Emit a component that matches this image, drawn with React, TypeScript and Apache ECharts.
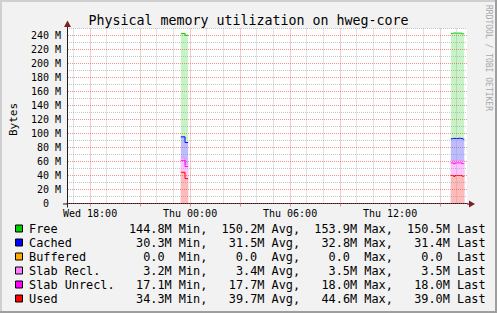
import React, { useEffect, useRef } from 'react';
import * as echarts from 'echarts';

// ---- time frame (minutes since Wed 00:00) ----
const T0 = 16 * 60 + 37; // left edge: Wed 16:37
const SPAN = 1440; // 24 h shown

// ---- series (stack order bottom -> top) ----
const seriesNames = ['Used', 'Slab Unrecl.', 'Slab Recl.', 'Buffered', 'Cached', 'Free'];
const lineColors = ['#ff0000', '#ff00ff', '#ff80ff', '#ffaa00', '#0000ff', '#00cc00'];
const fillColors = ['#ffbaba', '#ffc4ff', '#ffd0ff', '#ffe0a0', '#bcbcff', '#c6f4c6'];

// sample times, minutes since T0
const seg1Times = [410, 425, 436];
const seg2Times = [1382, 1387, 1392, 1397, 1402, 1407, 1412, 1417, 1422, 1427, 1430];

// values in MB
const used1 = [44.6, 35.5, 35.5];
const slabUnrecl1 = [17.1, 17.3, 17.3];
const slabRecl1 = [3.2, 3.3, 3.3];
const buffered1 = [0, 0, 0];
const cached1 = [30.3, 31.0, 31.0];
const free1 = [147.8, 153.3, 153.3];

const used2 = [40.1, 40.0, 38.7, 40.0, 40.1, 40.0, 40.0, 40.1, 39.0, 39.0, 39.0];
const slabUnrecl2 = [17.9, 18.0, 18.0, 18.0, 18.0, 18.0, 18.0, 18.0, 18.0, 18.0, 18.0];
const slabRecl2 = [3.5, 3.5, 3.5, 3.5, 3.5, 3.5, 3.5, 3.5, 3.5, 3.5, 3.5];
const buffered2 = [0, 0, 0, 0, 0, 0, 0, 0, 0, 0, 0];
const cached2 = [31.0, 31.5, 32.8, 31.4, 31.2, 31.8, 31.5, 31.4, 31.5, 31.4, 31.4];
const free2 = [150.5, 150.4, 150.6, 150.5, 150.6, 150.2, 150.4, 150.5, 150.4, 150.5, 150.5];

const segments = [
  { times: seg1Times, values: [used1, slabUnrecl1, slabRecl1, buffered1, cached1, free1] },
  { times: seg2Times, values: [used2, slabUnrecl2, slabRecl2, buffered2, cached2, free2] },
];

// ---- legend / statistics ----
const legendNames = ['Free', 'Cached', 'Buffered', 'Slab Recl.', 'Slab Unrecl.', 'Used'];
const legendColors = ['#00cc00', '#0000ff', '#ffaa00', '#ff80ff', '#ff00ff', '#ff0000'];
const statMin = [144.8, 30.3, 0, 3.2, 17.1, 34.3];
const statAvg = [150.2, 31.5, 0, 3.4, 17.7, 39.7];
const statMax = [153.9, 32.8, 0, 3.5, 18.0, 44.6];
const statLast = [150.5, 31.4, 0, 3.5, 18.0, 39.0];

const yTickStep = 20;
const yMaxLabel = 240;

const MONO = '"DejaVu Sans Mono", monospace';
const GRID_C = 'rgba(143,143,143,0.5)';
const MGRID_C = 'rgba(222,79,79,0.6)';
const AXIS_C = '#1f1f1f';
const ARROW_C = '#801f1f';

const PL = 67, PT = 28.5, PW = 400, PH = 175;
const YMAX = 250;
const pxPerM = PH / YMAX;

const dayNames = ['Wed', 'Thu', 'Fri'];
const categories: string[] = [];
for (let i = 0; i <= SPAN; i++) {
  const t = T0 + i;
  const d = Math.floor(t / 1440);
  const m = t % 1440;
  const hh = String(Math.floor(m / 60)).padStart(2, '0');
  const mm = String(m % 60).padStart(2, '0');
  categories.push(`${dayNames[d]} ${hh}:${mm}`);
}

// cumulative stack tops, per segment and level
function stackedData(seg: { times: number[]; values: number[][] }, k: number) {
  return seg.times.map((t, i) => {
    let s = 0;
    for (let j = 0; j <= k; j++) s += seg.values[j][i];
    return [t, +s.toFixed(2)];
  });
}

function fmt(v: number) {
  return v === 0 ? '0.0' : v.toFixed(1) + 'M';
}

function buildGraphics() {
  const g: any[] = [];
  // frame
  g.push({ type: 'rect', shape: { x: 0, y: 0, width: 497, height: 2 }, style: { fill: '#cfcfcf' }, silent: true });
  g.push({ type: 'rect', shape: { x: 0, y: 0, width: 2, height: 313 }, style: { fill: '#cfcfcf' }, silent: true });
  g.push({ type: 'rect', shape: { x: 0, y: 311, width: 497, height: 2 }, style: { fill: '#9e9e9e' }, silent: true });
  g.push({ type: 'rect', shape: { x: 495, y: 0, width: 2, height: 313 }, style: { fill: '#9e9e9e' }, silent: true });
  // axis extensions
  g.push({ type: 'line', shape: { x1: 63, y1: PT + PH + 0.5, x2: PL, y2: PT + PH + 0.5 }, style: { stroke: AXIS_C, lineWidth: 1 }, silent: true });
  g.push({ type: 'line', shape: { x1: PL + 0.5, y1: PT + PH, x2: PL + 0.5, y2: PT + PH + 4 }, style: { stroke: AXIS_C, lineWidth: 1 }, silent: true });
  g.push({ type: 'line', shape: { x1: PL + 0.5, y1: PT, x2: PL + 0.5, y2: 24 }, style: { stroke: AXIS_C, lineWidth: 1 }, silent: true });
  g.push({ type: 'line', shape: { x1: PL + PW, y1: PT + PH + 0.5, x2: PL + PW + 3, y2: PT + PH + 0.5 }, style: { stroke: AXIS_C, lineWidth: 1 }, silent: true });
  // arrows
  g.push({ type: 'polygon', shape: { points: [[PL + 0.5, 20.5], [PL - 3, 27], [PL + 4, 27]] }, style: { fill: ARROW_C }, silent: true });
  g.push({ type: 'polygon', shape: { points: [[PL + PW + 8, PT + PH + 0.5], [PL + PW + 2, PT + PH - 3], [PL + PW + 2, PT + PH + 4]] }, style: { fill: ARROW_C }, silent: true });
  // watermark
  g.push({
    type: 'text', x: 488, y: 5, rotation: -Math.PI / 2, silent: true,
    style: { text: 'RRDTOOL / TOBI OETIKER', font: `8px ${MONO}`, fill: '#a8a8a8', align: 'left', verticalAlign: 'middle' },
  });
  // legend
  const FS = 11.85;
  const CW = FS * 0.602;
  const X0 = 29;
  const font = `${FS}px ${MONO}`;
  const col = (n: number) => X0 + n * CW;
  legendNames.forEach((name, i) => {
    const y = 229 + 14 * i;
    g.push({ type: 'rect', shape: { x: 15.5, y: y - 4, width: 7, height: 7 }, style: { fill: legendColors[i], stroke: '#000', lineWidth: 1 }, silent: true });
    const txt = (text: string, x: number, align: string) =>
      g.push({ type: 'text', silent: true, style: { text, x, y, font, fill: '#000', align, verticalAlign: 'middle' } });
    txt(name, X0, 'left');
    const vals = [statMin[i], statAvg[i], statMax[i], statLast[i]];
    const words = ['Min,', 'Avg,', 'Max,', 'Last'];
    const ends = [20, 33, 46, 59];
    vals.forEach((v, j) => {
      const end = v === 0 ? ends[j] - 1 : ends[j];
      txt(fmt(v), col(end), 'right');
      txt(words[j], col(ends[j] + 1), 'left');
    });
  });
  return g;
}

const minuteOf = (idx: number) => T0 + idx;

// draw order: top of stack first, lower levels painted over it
const series: any[] = [];
for (let k = seriesNames.length - 1; k >= 0; k--) {
  segments.forEach((seg, s) => {
    const hidden = seriesNames[k] === 'Buffered';
    series.push({
      name: seriesNames[k],
      id: `${seriesNames[k]}-${s}`,
      type: 'line',
      xAxisIndex: 2,
      yAxisIndex: 0,
      step: 'end',
      symbol: 'none',
      z: 2,
      lineStyle: { color: lineColors[k], width: hidden ? 0 : 1 },
      areaStyle: { color: fillColors[k], opacity: hidden ? 0 : 1 },
      data: stackedData(seg, k),
    });
  });
}

const option: any = {
  animation: false,
  backgroundColor: '#f2f2f2',
  title: {
    text: 'Physical memory utilization on hweg-core',
    left: 'center',
    top: 9,
    textStyle: { fontFamily: MONO, fontSize: 13.3, fontWeight: 'normal', color: '#000' },
  },
  grid: [
    { left: PL, top: PT, width: PW, height: PH, show: true, backgroundColor: '#ffffff', borderWidth: 0 },
    { left: PL, top: PT + (YMAX - yMaxLabel) * pxPerM, width: PW, height: yMaxLabel * pxPerM },
    { left: PL, top: PT, width: PW, height: (YMAX - 10) * pxPerM },
  ],
  xAxis: [
    {
      type: 'category', gridIndex: 0, position: 'bottom', data: categories, boundaryGap: false, z: 3,
      axisLine: { show: true, lineStyle: { color: AXIS_C, width: 1 } },
      axisTick: { show: false }, axisLabel: { show: false },
      splitLine: {
        show: true,
        interval: (idx: number) => minuteOf(idx) % 60 === 0 && minuteOf(idx) % 180 !== 0,
        lineStyle: { color: GRID_C, type: [1, 1], width: 1 },
      },
    },
    {
      type: 'category', gridIndex: 0, position: 'bottom', offset: 0, data: categories, boundaryGap: false, z: 4,
      axisLine: { show: false },
      axisTick: {
        show: true, length: 3, inside: false,
        interval: (idx: number) => minuteOf(idx) % 180 === 0,
        lineStyle: { color: MGRID_C },
      },
      axisLabel: {
        show: true, margin: 5, fontFamily: MONO, fontSize: 10, color: '#000',
        interval: (idx: number) => minuteOf(idx) % 360 === 0,
      },
      splitLine: {
        show: true,
        interval: (idx: number) => minuteOf(idx) % 180 === 0,
        lineStyle: { color: MGRID_C, type: [1, 1], width: 1 },
      },
    },
    { type: 'value', gridIndex: 0, position: 'bottom', min: 0, max: SPAN, show: false },
    { type: 'value', gridIndex: 1, position: 'bottom', min: 0, max: SPAN, show: false },
    { type: 'value', gridIndex: 2, position: 'bottom', min: 0, max: SPAN, show: false },
  ],
  yAxis: [
    {
      type: 'value', gridIndex: 0, position: 'left', min: 0, max: YMAX, z: 5,
      axisLine: { show: true, lineStyle: { color: AXIS_C, width: 1 } },
      axisTick: { show: false }, axisLabel: { show: false }, splitLine: { show: false },
    },
    {
      type: 'value', gridIndex: 1, position: 'left', min: 0, max: yMaxLabel, interval: yTickStep, z: 4,
      name: 'Bytes', nameLocation: 'middle', nameGap: 49, nameRotate: 90,
      nameTextStyle: { fontFamily: MONO, fontSize: 11, color: '#000' },
      axisLine: { show: false }, axisTick: { show: false },
      axisLabel: {
        margin: 7, fontFamily: MONO, fontSize: 10, color: '#000',
        formatter: (v: number) => (v === 0 ? '0\u00a0\u00a0' : `${v} M`),
      },
      splitLine: { show: true, lineStyle: { color: MGRID_C, type: [1, 1], width: 1 } },
    },
    {
      type: 'value', gridIndex: 2, position: 'left', min: 10, max: YMAX, interval: yTickStep, z: 3,
      axisLine: { show: false }, axisTick: { show: false }, axisLabel: { show: false },
      splitLine: { show: true, lineStyle: { color: GRID_C, type: [1, 1], width: 1 } },
    },
  ],
  series,
  graphic: buildGraphics(),
};

export default function App() {
  const ref = useRef<HTMLDivElement>(null);
  useEffect(() => {
    const chart = echarts.init(ref.current!, null, { renderer: 'svg' });
    chart.setOption(option);
    return () => chart.dispose();
  }, []);
  return (
    <div
      ref={ref}
      style={{ position: 'fixed', left: 0, top: 0, width: 497, height: 313, background: '#f2f2f2' }}
    />
  );
}
